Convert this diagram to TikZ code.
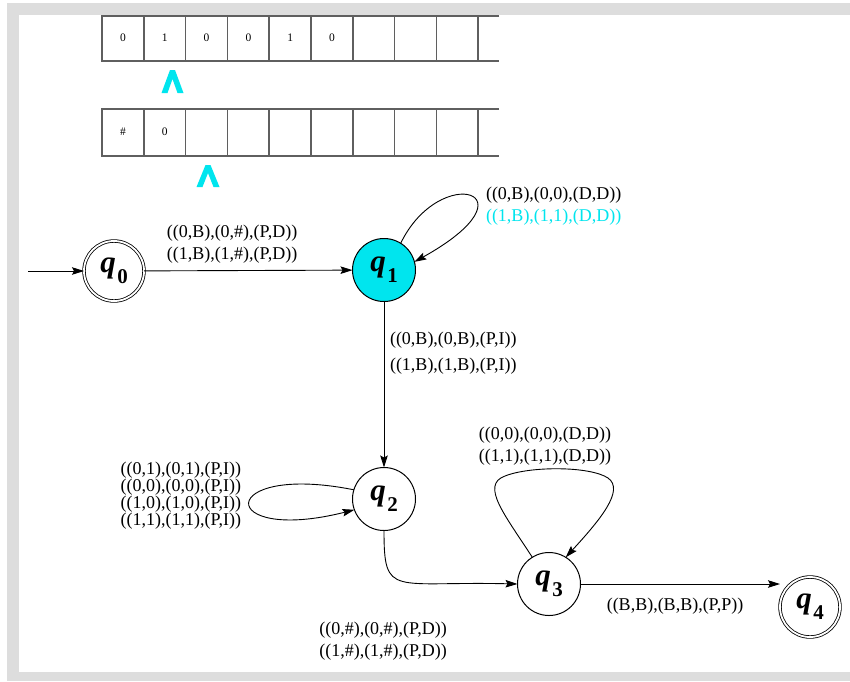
\documentclass[tikz,border=0pt]{standalone}
\usepackage{fontspec}
\setmainfont{Liberation Serif}
\usetikzlibrary{arrows.meta}
\definecolor{hilite}{RGB}{0,229,238}
\definecolor{framegray}{RGB}{221,221,221}
\definecolor{tapeline}{RGB}{95,95,95}
% state label: bold italic q with a bold lowered index
\newcommand\qlab[1]{{\fontsize{31}{31}\selectfont\bfseries\itshape q}\hspace{1.5pt}\raisebox{-11pt}{\fontsize{21}{21}\selectfont\bfseries #1}}
\begin{document}
\begin{tikzpicture}[x=1pt,y=-1pt,
  every node/.style={inner sep=0pt, outer sep=0pt},
  state/.style={circle, draw, line width=1pt, minimum size=63pt},
  accept/.style={state, double, double distance=1.8pt, line width=0.8pt, minimum size=60pt},
  edge/.style={draw, line width=0.9pt, -{Stealth[length=12pt,width=7.5pt,inset=2pt]}},
  lbl/.style={font=\fontsize{18}{22}\selectfont, align=center},
  loopl/.style={font=\fontsize{18}{17}\selectfont, align=right},
  cell/.style={font=\fontsize{11.5}{11.5}\selectfont},
  tape/.style={draw=tapeline, line width=1.6pt},
  caret/.style={fill=hilite}
]
% page and grey frame
\useasboundingbox (0,0) rectangle (850,681);
\fill[white] (0,0) rectangle (850,681);
\fill[framegray] (7,3) rectangle (850,681);
\fill[white] (19,15) rectangle (850,672);

% input tape
\draw[tape] (499,16) -- (102,16) -- (102,61) -- (499,61);
\foreach \i in {1,...,9} \draw[tape] (102+41.8*\i,16) -- (102+41.8*\i,61);
\foreach \s [count=\i from 0] in {0,1,0,0,1,0}
  \node[cell] (in\i) at (123+41.8*\i,38) {\s};
% work tape
\draw[tape] (499,109) -- (102,109) -- (102,156) -- (499,156);
\foreach \i in {1,...,9} \draw[tape] (102+41.8*\i,109) -- (102+41.8*\i,156);
\node[cell] (w0) at (123,132) {\#};
\node[cell] (w1) at (164.8,132) {0};
% head markers
\fill[caret] (161.5,93) -- (170,70) -- (175,70) -- (183.5,93) -- (177.5,93) -- (172.5,79) -- (167.5,93) -- cycle;
\fill[caret] (196.5,187) -- (205.5,165) -- (210.5,165) -- (219.5,187) -- (213.5,187) -- (208,173) -- (202.5,187) -- cycle;

% states
\node[accept] (q0) at (114,271) {\qlab{0}};
\node[state, fill=hilite] (q1) at (384,270) {\qlab{1}};
\node[state] (q2) at (384,499) {\qlab{2}};
\node[state] (q3) at (549,584) {\qlab{3}};
\node[accept] (q4) at (810,607) {\qlab{4}};

% transitions
\coordinate (init) at (28,271);
\draw[edge] (init) -- (q0);
\draw[edge] (q0) -- (q1);
\node[lbl] (l01) at (232,244) {((0,B),(0,\#),(P,D))\\((1,B),(1,\#),(P,D))};

\draw[edge] (q1.58) .. controls (440,162) and (540,192) .. (q1.15);
\node[lbl, align=left, anchor=west] (l11) at (486,206) {((0,B),(0,0),(D,D))\\\textcolor{hilite}{((1,B),(1,1),(D,D))}};

\draw[edge] (q1) -- (q2);
\node[font=\fontsize{18}{26}\selectfont, align=left, anchor=west] (l12) at (390,353) {((0,B),(0,B),(P,I))\\((1,B),(1,B),(P,I))};

\draw[edge] (q2.163) .. controls (215,462) and (215,545) .. (q2.200);
\node[loopl, anchor=east] (l22) at (241,496) {((0,1),(0,1),(P,I))\\((0,0),(0,0),(P,I))\\((1,0),(1,0),(P,I))\\((1,1),(1,1),(P,I))};

\draw[edge] (q2.south) .. controls (384,598) and (392,581) .. (q3.west);
\node[lbl] (l23) at (383,641) {((0,\#),(0,\#),(P,D))\\((1,\#),(1,\#),(P,D))};

\draw[edge] (q3.122) .. controls (505,515) and (480,485) .. (505,476)
  .. controls (530,466) and (590,466) .. (608,478)
  .. controls (625,490) and (600,520) .. (q3.58);
\node[lbl] (l33) at (545,446) {((0,0),(0,0),(D,D))\\((1,1),(1,1),(D,D))};

\draw[edge] (q3.east) -- (q3.east -| q4.west);
\node[lbl] (l34) at (675,606) {((B,B),(B,B),(P,P))};
\end{tikzpicture}
\end{document}
